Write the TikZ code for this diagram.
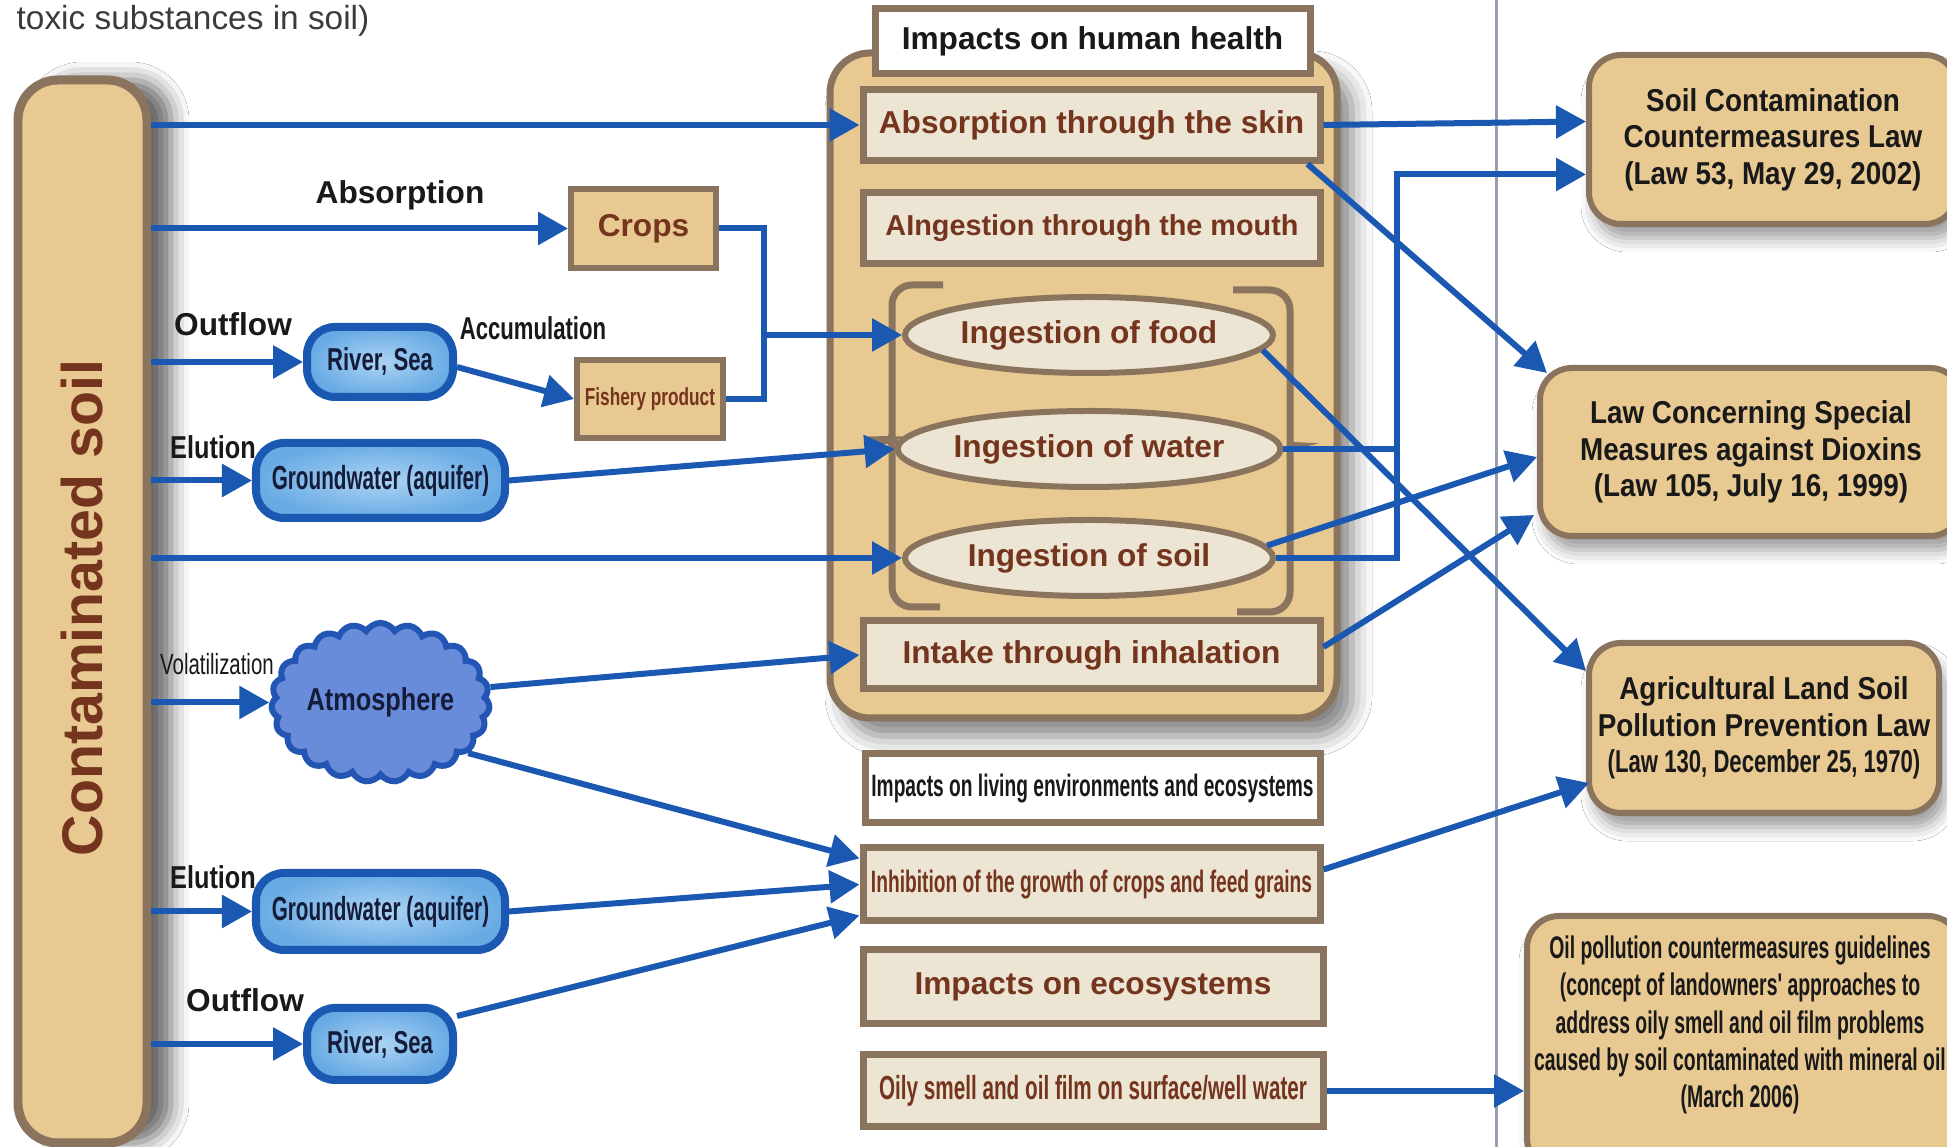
\documentclass[tikz,border=0pt]{standalone}
\usepackage{fontspec}
\setmainfont{Liberation Sans}
\newfontfamily\narrowsix[FakeStretch=0.62]{Liberation Sans}
\newfontfamily\narrowseven[FakeStretch=0.7]{Liberation Sans}
\newfontfamily\narroweight[FakeStretch=0.8]{Liberation Sans}
\newfontfamily\narrownine[FakeStretch=0.88]{Liberation Sans}
\usetikzlibrary{arrows.meta,calc,shapes.geometric,shapes.symbols,shadows.blur}

\definecolor{soiltan}{RGB}{232,201,145}
\definecolor{edgebrown}{RGB}{139,116,94}
\definecolor{itemfill}{RGB}{236,229,212}
\definecolor{itemtext}{RGB}{117,52,30}
\definecolor{flowblue}{RGB}{26,88,178}
\definecolor{waterfill}{RGB}{104,170,228}
\definecolor{waterin}{RGB}{172,212,244}
\definecolor{airfill}{RGB}{104,139,218}
\definecolor{airedge}{RGB}{35,85,180}
\definecolor{navytext}{RGB}{20,28,58}
\definecolor{inktext}{RGB}{25,25,25}
\definecolor{foldgray}{RGB}{150,160,172}

\tikzset{
  flow/.style={draw=flowblue, line width=0.06cm, -{Triangle[length=0.3cm,width=0.32cm]}},
  link/.style={draw=flowblue, line width=0.06cm},
  tag/.style={font=\bfseries\fontsize{9}{10}\selectfont, text=inktext, inner sep=0},
  item/.style={draw=edgebrown, line width=0.07cm, fill=itemfill, text=itemtext, inner sep=0,
    minimum width=4.57cm, minimum height=0.71cm, font=\bfseries\fontsize{9}{10}\selectfont},
  headbox/.style={item, fill=white, text=inktext},
  ingest/.style={ellipse, draw=edgebrown, line width=0.06cm, fill=itemfill, text=itemtext, inner sep=0,
    minimum width=3.68cm, minimum height=0.76cm, font=\bfseries\fontsize{9}{10}\selectfont},
  goods/.style={draw=edgebrown, line width=0.06cm, fill=soiltan, text=itemtext, inner sep=0,
    minimum width=1.45cm, minimum height=0.79cm},
  waterbox/.style={draw=flowblue, line width=0.08cm, rounded corners=0.28cm, inner color=waterin,
    outer color=waterfill, text=navytext, inner sep=0, minimum height=0.73cm,
    font=\narrowsix\bfseries\fontsize{9.5}{10}\selectfont},
  law/.style={draw=edgebrown, line width=0.06cm, rounded corners=0.32cm, fill=soiltan, inner sep=0,
    align=center, text=inktext, font=\narrownine\bfseries\fontsize{9}{10.4}\selectfont,
    blur shadow={shadow xshift=0.06cm, shadow yshift=-0.14cm, shadow blur radius=0.14cm, shadow opacity=40}},
  lawtext/.style={align=center, text=inktext, inner sep=0}
}

\begin{document}
\begin{tikzpicture}
\useasboundingbox (0,0) rectangle (19.47,-11.47);
\fill[white] (0,0) rectangle (19.47,-11.47);
\draw[foldgray, line width=0.03cm] (14.96,0) -- (14.96,-11.47);

\node[anchor=base west, inner sep=0, text=inktext!85, font=\fontsize{9.5}{10}\selectfont] (caption) at (0.16,-0.30) {toxic substances in soil)};

% contaminated soil column
\node[draw=edgebrown, line width=0.09cm, rounded corners=0.4cm, fill=soiltan, minimum width=1.29cm, minimum height=10.63cm,
  blur shadow={shadow xshift=0.24cm, shadow yshift=0cm, shadow blur radius=0.18cm, shadow opacity=60}] (soil) at (0.825,-6.115) {};
\node[rotate=90, anchor=base, inner sep=0, text=itemtext, font=\bfseries\fontsize{16.3}{18}\selectfont] (soiltxt) at (1.02,-6.08) {Contaminated soil};

% human health
\node[draw=edgebrown, line width=0.07cm, rounded corners=0.4cm, fill=soiltan, minimum width=5.07cm, minimum height=6.65cm,
  blur shadow={shadow xshift=0.15cm, shadow yshift=-0.18cm, shadow blur radius=0.2cm, shadow opacity=50}] (panel) at (10.835,-3.855) {};
\node[headbox, minimum width=4.35cm, minimum height=0.65cm] (health) at (10.925,-0.415) {Impacts on human health};
\node[item] (skin) at (10.915,-1.25) {Absorption through the skin};
\node[item, font=\bfseries\fontsize{8.2}{10}\selectfont] (mouth) at (10.92,-2.28) {AIngestion through the mouth};
\draw[edgebrown, line width=0.07cm, rounded corners=0.2cm] (9.43,-2.85) -- (8.92,-2.85) -- (8.92,-4.26)
  .. controls (8.92,-4.37) and (8.80,-4.40) .. (8.65,-4.40) .. controls (8.80,-4.40) and (8.92,-4.43) .. (8.92,-4.54)
  -- (8.92,-6.07) -- (9.40,-6.07);
\draw[edgebrown, line width=0.07cm, rounded corners=0.2cm] (12.33,-2.90) -- (12.90,-2.90) -- (12.90,-4.32)
  .. controls (12.90,-4.43) and (13.00,-4.46) .. (13.12,-4.46) .. controls (13.00,-4.46) and (12.90,-4.49) .. (12.90,-4.60)
  -- (12.90,-6.12) -- (12.37,-6.12);
\node[ingest] (ingfood) at (10.89,-3.35) {Ingestion of food};
\node[ingest] (ingwater) at (10.89,-4.49) {Ingestion of water};
\node[ingest] (ingsoil) at (10.89,-5.58) {Ingestion of soil};
\node[item, minimum height=0.68cm] (inhale) at (10.915,-6.55) {Intake through inhalation};

% living environments and ecosystems
\node[headbox, minimum width=4.55cm, minimum height=0.69cm, font=\narrowsix\bfseries\fontsize{8.8}{10}\selectfont] (living) at (10.925,-7.885) {Impacts on living environments and ecosystems};
\node[item, minimum height=0.73cm, font=\narrowsix\bfseries\fontsize{8.8}{10}\selectfont] (inhibit) at (10.915,-8.845) {Inhibition of the growth of crops and feed grains};
\node[item, minimum width=4.6cm, minimum height=0.74cm] (ecosys) at (10.93,-9.87) {Impacts on ecosystems};
\node[item, minimum width=4.6cm, minimum height=0.72cm, font=\narrowsix\bfseries\fontsize{9.5}{10}\selectfont] (oily) at (10.93,-10.91) {Oily smell and oil film on surface/well water};

% pathways
\node[goods, font=\bfseries\fontsize{9}{10}\selectfont] (crops) at (6.435,-2.285) {Crops};
\node[goods, minimum width=1.46cm, minimum height=0.78cm, font=\narrowseven\bfseries\fontsize{7}{8}\selectfont] (fishery) at (6.50,-3.99) {Fishery product};
\node[waterbox, minimum width=1.46cm, minimum height=0.70cm, font=\narrowseven\bfseries\fontsize{9}{10}\selectfont] (riverA) at (3.80,-3.62) {River, Sea};
\node[waterbox, minimum width=2.49cm, minimum height=0.75cm] (groundA) at (3.805,-4.805) {Groundwater (aquifer)};
\node[cloud, cloud puffs=23, cloud puff arc=120, aspect=1.45, draw=airedge, line width=0.06cm, fill=airfill, text=navytext,
  minimum width=2.1cm, minimum height=1.45cm, inner sep=0, font=\narroweight\bfseries\fontsize{9}{10}\selectfont] (atmos) at (3.805,-7.025) {Atmosphere};
\node[waterbox, minimum width=2.49cm, minimum height=0.77cm] (groundB) at (3.805,-9.115) {Groundwater (aquifer)};
\node[waterbox, minimum width=1.46cm, minimum height=0.72cm, font=\narrowseven\bfseries\fontsize{9}{10}\selectfont] (riverB) at (3.80,-10.44) {River, Sea};

\node[tag] (lblabsorb) at (4.00,-1.95) {Absorption};
\node[tag] (lbloutA) at (2.33,-3.24) {Outflow};
\node[tag, font=\narrowseven\bfseries\fontsize{9}{10}\selectfont] (lblaccum) at (5.33,-3.28) {Accumulation};
\node[tag, font=\narroweight\bfseries\fontsize{9}{10}\selectfont] (lblelutA) at (2.13,-4.47) {Elution};
\node[tag, font=\narrowseven\fontsize{8.3}{10}\selectfont] (lblvolat) at (2.17,-6.64) {Volatilization};
\node[tag, font=\narroweight\bfseries\fontsize{9}{10}\selectfont] (lblelutB) at (2.13,-8.77) {Elution};
\node[tag] (lbloutB) at (2.45,-10.00) {Outflow};

% laws
\node[law, minimum width=3.68cm, minimum height=1.69cm] (lawsoil) at (17.73,-1.395) {Soil Contamination\\Countermeasures Law\\(Law 53, May 29, 2002)};
\node[law, minimum width=4.22cm, minimum height=1.68cm] (lawdiox) at (17.51,-4.52) {Law Concerning Special\\Measures against Dioxins\\(Law 105, July 16, 1999)};
\node[law, minimum width=3.50cm, minimum height=1.70cm] (lawagri) at (17.64,-7.28) {Agricultural Land Soil\\Pollution Prevention Law\\{\narrowseven (Law 130, December 25, 1970)}};
\node[law, minimum width=4.33cm, minimum height=2.54cm] (lawoil) at (17.435,-10.43) {};
\node[lawtext, font=\narrowsix\bfseries\fontsize{8.9}{10.6}\selectfont] (lawoiltxt) at (17.40,-10.25) {Oil pollution countermeasures guidelines\\(concept of landowners' approaches to\\address oily smell and oil film problems\\caused by soil contaminated with mineral oil\\(March 2006)};

\coordinate (merge) at (7.64,-3.35);
\coordinate (riser) at (13.97,-5.58);

\draw[flow] (soil.east |- skin.west) -- (skin.west);
\draw[flow] (soil.east |- crops.west) -- (crops.west);
\draw[flow] (soil.east |- riverA.west) -- (riverA.west);
\draw[flow] (soil.east |- groundA.west) -- (groundA.west);
\draw[flow] (soil.east |- ingsoil.west) -- (ingsoil.west);
\draw[flow] (soil.east |- atmos.west) -- (atmos.west);
\draw[flow] (soil.east |- groundB.west) -- (groundB.west);
\draw[flow] (soil.east |- riverB.west) -- (riverB.west);

\draw[link] (crops.east) -| (merge);
\draw[link] (fishery.east) -| (merge);
\draw[flow] (merge) -- (ingfood.west);
\draw[flow] ($(riverA.east)+(0,-0.05)$) -- (fishery.west);
\draw[flow] (groundA.east) -- (ingwater.west);
\draw[flow] (atmos.8) -- (inhale.west);
\draw[flow] (atmos.-30) -- ($(inhibit.west)+(0,0.26)$);
\draw[flow] (groundB.east) -- (inhibit.west);
\draw[flow] ($(riverB.north east)+(0,-0.12)$) -- ($(inhibit.west)+(0,-0.31)$);

\draw[flow] (skin.east) -- ($(lawsoil.west)+(0,0.18)$);
\draw[link] (ingwater.east) -- (ingwater.east -| riser);
\draw[flow] (ingsoil.east) -- (riser) |- ($(lawsoil.west)+(0,-0.35)$);
\draw[flow] ($(skin.south east)+(-0.16,0)$) -- ($(lawdiox.north west)+(0.1,-0.08)$);
\draw[flow] (ingfood.-5) -- ($(lawagri.north west)+(0,-0.31)$);
\draw[flow] (ingsoil.4) -- ($(lawdiox.west)+(0,-0.05)$);
\draw[flow] ($(inhale.east)+(0,0.08)$) -- ($(lawdiox.south west)+(-0.03,0.24)$);
\draw[flow] ($(inhibit.east)+(0,0.15)$) -- ($(lawagri.south west)+(0.03,0.33)$);
\draw[flow] (oily.east) -- (oily.east -| lawoil.west);
\end{tikzpicture}
\end{document}
